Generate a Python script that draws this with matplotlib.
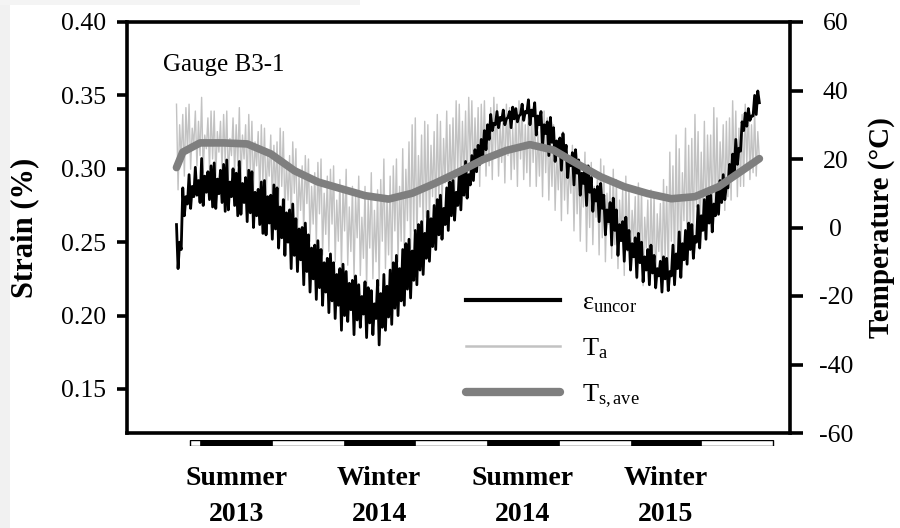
import numpy as np
import matplotlib
matplotlib.use("Agg")
import matplotlib.pyplot as plt
import matplotlib.dates as mdates
from matplotlib.lines import Line2D
from matplotlib.patches import Rectangle
from matplotlib.ticker import FormatStrFormatter
from matplotlib.transforms import blended_transform_factory

plt.rcParams['font.family'] = ['Liberation Serif', 'DejaVu Serif']
plt.rcParams['mathtext.fontset'] = 'custom'
plt.rcParams['mathtext.rm'] = 'Liberation Serif'
plt.rcParams['mathtext.it'] = 'Liberation Serif:italic'
plt.rcParams['axes.unicode_minus'] = False

# ---------------------------------------------------------------- data
# Readings every 2 days starting 2013-05-02, in repeating groups of four:
# main peak, main trough, secondary peak, secondary trough
FIRST_READING = '2013-05-02'
STEP_DAYS = 2

# air temperature T_a (deg C)
ta_peak = [36, 33, 36, 34, 38, 32, 34, 31, 34, 32,
           35, 30, 31, 28, 29, 27, 25, 28, 21, 23,
           18, 20, 16, 20, 15, 18, 14, 17, 12, 15,
           12, 16, 11, 20, 15, 20, 23, 25, 32, 27,
           30, 28, 31, 34, 32, 36, 34, 37, 35, 37,
           35, 36, 34, 35, 34, 35, 34, 34, 31, 32,
           30, 25, 23, 24, 20, 22, 19, 16, 18, 14,
           14, 11, 12, 9, 11, 8, 10, 7, 12, 18,
           23, 29, 26, 28, 31, 27, 32, 30, 32, 34,
           33, 35, 34]
ta_trough = [11, 15, 17, 18, 16, 17, 15, 17, 14, 16,
             14, 12, 11, 9, 8, 7, 5, 4, 2, -1,
             -2, -4, -5, -8, -7, -10, -12, -11, -15, -14,
             -18, -15, -17, -12, -14, -10, -8, -6, -4, -2,
             1, 3, 5, 7, 9, 10, 11, 14, 12, 15,
             14, 15, 13, 14, 12, 14, 12, 12, 9, 8,
             5, 2, 4, -1, -4, -7, -5, -8, -10, -9,
             -12, -14, -12, -15, -17, -15, -18, -16, -15, -12,
             -10, -8, -5, -4, -1, 1, 4, 5, 8, 9,
             12, 14, 15]
ta_peak2 = [30, 35, 29, 31, 27, 34, 28, 33, 26, 30,
            27, 33, 25, 30, 22, 24, 29, 19, 25, 15,
            21, 12, 19, 10, 17, 8, 12, 6, 9, 3,
            8, 5, 14, 9, 18, 12, 17, 30, 21, 31,
            24, 33, 26, 30, 37, 31, 38, 32, 36, 30,
            38, 31, 36, 29, 37, 30, 33, 28, 34, 26,
            22, 28, 18, 21, 14, 17, 12, 20, 10, 17,
            8, 15, 5, 13, 3, 11, 4, 14, 22, 27,
            16, 24, 33, 22, 27, 35, 25, 31, 37, 29,
            36, 30, 28]
ta_trough2 = [20, 22, 24, 21, 23, 20, 22, 19, 21, 18,
              20, 16, 18, 13, 15, 10, 12, 8, 10, 5,
              7, 1, 4, -2, 1, -4, -1, -7, -3, -9,
              -6, -10, -4, -8, -1, -4, 2, -1, 6, 3,
              9, 7, 13, 11, 16, 14, 19, 17, 21, 18,
              22, 19, 21, 17, 20, 16, 19, 15, 16, 12,
              11, 8, 10, 4, 6, 0, 3, -3, 1, -5,
              -2, -7, -4, -9, -6, -11, -7, -10, -4, -6,
              2, -2, 6, 2, 9, 5, 12, 9, 15, 12,
              18, 16, 20]

# uncorrected strain (%)
strain_peak = [0.262, 0.287, 0.296, 0.301, 0.307, 0.298, 0.304, 0.299, 0.306, 0.300,
               0.305, 0.294, 0.298, 0.286, 0.292, 0.282, 0.287, 0.279, 0.272, 0.266,
               0.260, 0.255, 0.248, 0.245, 0.239, 0.236, 0.232, 0.230, 0.224, 0.221,
               0.223, 0.217, 0.224, 0.228, 0.231, 0.241, 0.245, 0.252, 0.258, 0.264,
               0.271, 0.275, 0.282, 0.287, 0.292, 0.298, 0.305, 0.309, 0.316, 0.326,
               0.337, 0.339, 0.340, 0.339, 0.341, 0.344, 0.347, 0.345, 0.339, 0.332,
               0.328, 0.321, 0.316, 0.311, 0.306, 0.299, 0.294, 0.288, 0.282, 0.277,
               0.272, 0.264, 0.258, 0.253, 0.250, 0.245, 0.241, 0.237, 0.239, 0.248,
               0.257, 0.258, 0.262, 0.275, 0.279, 0.282, 0.287, 0.296, 0.303, 0.320,
               0.332, 0.341, 0.350]
strain_trough = [0.232, 0.268, 0.273, 0.282, 0.275, 0.279, 0.273, 0.277, 0.272, 0.275,
                 0.269, 0.264, 0.260, 0.262, 0.255, 0.252, 0.246, 0.241, 0.232, 0.230,
                 0.221, 0.216, 0.211, 0.207, 0.202, 0.198, 0.190, 0.196, 0.187, 0.192,
                 0.185, 0.187, 0.180, 0.190, 0.194, 0.200, 0.207, 0.212, 0.221, 0.228,
                 0.237, 0.245, 0.252, 0.258, 0.265, 0.272, 0.280, 0.292, 0.303, 0.313,
                 0.326, 0.328, 0.330, 0.328, 0.332, 0.333, 0.330, 0.323, 0.316, 0.309,
                 0.305, 0.299, 0.294, 0.289, 0.282, 0.275, 0.271, 0.264, 0.255, 0.248,
                 0.241, 0.237, 0.231, 0.226, 0.223, 0.221, 0.219, 0.216, 0.217, 0.221,
                 0.226, 0.235, 0.239, 0.246, 0.252, 0.257, 0.269, 0.279, 0.292, 0.303,
                 0.326, 0.333, 0.337]
strain_peak2 = [0.250, 0.281, 0.288, 0.292, 0.295, 0.302, 0.293, 0.303, 0.291, 0.297,
                0.290, 0.299, 0.284, 0.291, 0.281, 0.289, 0.274, 0.270, 0.276, 0.259,
                0.263, 0.246, 0.251, 0.236, 0.242, 0.228, 0.235, 0.222, 0.227, 0.213,
                0.219, 0.208, 0.215, 0.220, 0.236, 0.232, 0.249, 0.244, 0.262, 0.256,
                0.266, 0.279, 0.273, 0.291, 0.284, 0.301, 0.296, 0.313, 0.320, 0.330,
                0.331, 0.335, 0.334, 0.342, 0.336, 0.339, 0.340, 0.336, 0.330, 0.335,
                0.319, 0.324, 0.308, 0.313, 0.297, 0.302, 0.286, 0.290, 0.272, 0.280,
                0.262, 0.267, 0.249, 0.256, 0.240, 0.248, 0.232, 0.240, 0.230, 0.242,
                0.249, 0.263, 0.254, 0.268, 0.283, 0.276, 0.292, 0.289, 0.310, 0.314,
                0.338, 0.336, 0.353]
strain_trough2 = [0.245, 0.276, 0.281, 0.277, 0.284, 0.274, 0.283, 0.271, 0.281, 0.268,
                  0.277, 0.270, 0.268, 0.256, 0.263, 0.259, 0.253, 0.250, 0.241, 0.238,
                  0.230, 0.225, 0.219, 0.216, 0.210, 0.207, 0.200, 0.204, 0.197, 0.201,
                  0.195, 0.198, 0.192, 0.199, 0.205, 0.210, 0.218, 0.224, 0.231, 0.239,
                  0.247, 0.255, 0.262, 0.268, 0.275, 0.282, 0.289, 0.298, 0.309, 0.320,
                  0.330, 0.333, 0.335, 0.334, 0.337, 0.338, 0.336, 0.330, 0.324, 0.318,
                  0.312, 0.307, 0.302, 0.297, 0.290, 0.284, 0.278, 0.273, 0.264, 0.258,
                  0.251, 0.245, 0.240, 0.236, 0.231, 0.229, 0.227, 0.225, 0.227, 0.232,
                  0.238, 0.245, 0.250, 0.258, 0.263, 0.268, 0.277, 0.287, 0.298, 0.312,
                  0.329, 0.336, 0.345]

# averaged surface temperature T_s,ave (deg C)
ts_dates = ['2013-05-02', '2013-05-10', '2013-06-01', '2013-07-01', '2013-07-31',
            '2013-08-30', '2013-09-29', '2013-10-29', '2013-11-28', '2013-12-28',
            '2014-01-27', '2014-02-26', '2014-03-28', '2014-04-27', '2014-05-27',
            '2014-06-26', '2014-07-26', '2014-08-25', '2014-09-24', '2014-10-24',
            '2014-11-23', '2014-12-23', '2015-01-22', '2015-02-21', '2015-03-23',
            '2015-04-22', '2015-05-14']
ts_ave = [17.5, 22.0, 24.7, 24.7, 24.4, 21.5, 16.6, 13.3, 11.3, 9.3,
          8.3, 10.0, 13.0, 16.3, 19.8, 22.5, 24.2, 22.6, 18.6, 14.8,
          11.9, 9.9, 8.4, 9.0, 11.9, 16.6, 20.1]

# seasons marked below the time axis
season_bar = ('2013-05-19', '2015-05-31')
season_spans = [('2013-06-01', '2013-09-01'), ('2013-12-01', '2014-03-01'),
                ('2014-06-01', '2014-09-01'), ('2014-12-01', '2015-03-01')]
season_names = ['Summer\n2013', 'Winter\n2014', 'Summer\n2014', 'Winter\n2015']

time_window = ('2013-02-28', '2015-06-22')
strain_ticks = [0.15, 0.20, 0.25, 0.30, 0.35, 0.40]
temp_ticks = [-60, -40, -20, 0, 20, 40, 60]

# ---------------------------------------------------------------- helpers
def dnum(s):
    return mdates.date2num(np.datetime64(s))

def interleave(*cols):
    return np.column_stack(cols).ravel()

ta = interleave(ta_peak, ta_trough, ta_peak2, ta_trough2)
strain = interleave(strain_peak, strain_trough, strain_peak2, strain_trough2)
read_days = np.datetime64(FIRST_READING) + np.arange(len(ta)) * np.timedelta64(STEP_DAYS, 'D')
t_read = mdates.date2num(read_days)
t_ts = mdates.date2num(np.array(ts_dates, dtype='datetime64[D]'))

# ---------------------------------------------------------------- figure
W, H = 900, 528
fig = plt.figure(figsize=(W / 100, H / 100), dpi=100)
fig.patch.set_facecolor('white')
# light page edge
fig.patches.append(Rectangle((0, 0), 10 / W, 1, transform=fig.transFigure,
                             facecolor='#f1f1f1', edgecolor='none', zorder=-10))
fig.patches.append(Rectangle((0, 1 - 5 / H), 0.4, 5 / H, transform=fig.transFigure,
                             facecolor='#f4f4f4', edgecolor='none', zorder=-10))

L, R, T, B = 127, 790, 22, 433
rect = [L / W, 1 - B / H, (R - L) / W, (B - T) / H]
ax = fig.add_axes(rect)
axT = ax.twinx()
axTs = ax.twinx()

ax.set_zorder(2)
axT.set_zorder(1)
axTs.set_zorder(3)
ax.patch.set_visible(False)
axTs.patch.set_visible(False)

# series
axT.plot(t_read, ta, color='#c2c2c2', lw=1.0, zorder=2)
ax.plot(t_read, strain, color='black', lw=2.0, zorder=3)
axTs.plot(t_ts, ts_ave, color='#7f7f7f', lw=5.5, solid_capstyle='round',
          solid_joinstyle='round', zorder=4)

# limits
ax.set_xlim(dnum(time_window[0]), dnum(time_window[1]))
ax.set_ylim(0.12, 0.40)
axT.set_ylim(-60, 60)
axTs.set_ylim(-60, 60)

# spines and ticks
SPW = 2.6
for s in ax.spines.values():
    s.set_linewidth(SPW)
for a in (axT, axTs):
    for s in a.spines.values():
        s.set_visible(False)
ax.set_xticks([])
ax.set_yticks(strain_ticks)
ax.yaxis.set_major_formatter(FormatStrFormatter('%.2f'))
ax.tick_params(axis='y', direction='out', length=7, width=SPW, labelsize=18.5, pad=8)
axT.set_yticks(temp_ticks)
axT.tick_params(axis='y', direction='out', length=9, width=SPW, labelsize=18.5, pad=24)
plt.setp(axT.get_yticklabels(), ha='center')
axTs.set_yticks([])
axTs.set_xticks([])

ax.set_ylabel('Strain (%)', fontsize=22, fontweight='bold')
ax.yaxis.set_label_coords(-0.132, 0.5)
axT.set_ylabel('Temperature (\u00b0C)', fontsize=21, fontweight='bold')
axT.yaxis.set_label_coords(1.118, 0.5)

ax.text(0.054, 0.895, 'Gauge B3-1', transform=ax.transAxes, fontsize=18,
        ha='left', va='center')

# legend
handles = [Line2D([], [], color='black', lw=3),
           Line2D([], [], color='#c2c2c2', lw=1.8),
           Line2D([], [], color='#7f7f7f', lw=6, solid_capstyle='round')]
labels = ['\u03b5$_{\\mathrm{uncor}}$', 'T$_{\\mathrm{a}}$', 'T$_{\\mathrm{s,ave}}$']
axTs.legend(handles, labels, loc='upper left', bbox_to_anchor=(0.511, 0.345),
            frameon=False, fontsize=19, handlelength=3.56, handletextpad=0.83,
            labelspacing=0.8, borderpad=0, borderaxespad=0)

# season bar
bar_top, bar_bot = 440, 446
axb = fig.add_axes([L / W, 1 - bar_bot / H, (R - L) / W, (bar_bot - bar_top) / H],
                   sharex=ax)
axb.set_ylim(0, 1)
axb.axis('off')
b0, b1 = dnum(season_bar[0]), dnum(season_bar[1])
axb.add_patch(Rectangle((b0, 0), b1 - b0, 1, facecolor='white', edgecolor='black',
                        lw=1.0))
axb.broken_barh([(dnum(a), dnum(b) - dnum(a)) for a, b in season_spans], (0, 1),
                facecolor='black', edgecolor='black', lw=0.5)

trans = blended_transform_factory(ax.transData, fig.transFigure)
for (a, b), name in zip(season_spans, season_names):
    xc = 0.5 * (dnum(a) + dnum(b))
    fig.text(xc, 1 - 466 / H, name, transform=trans, ha='center', va='top',
             fontsize=20, fontweight='bold', linespacing=1.6)

fig.savefig('out.png', dpi=100, facecolor=fig.get_facecolor())
